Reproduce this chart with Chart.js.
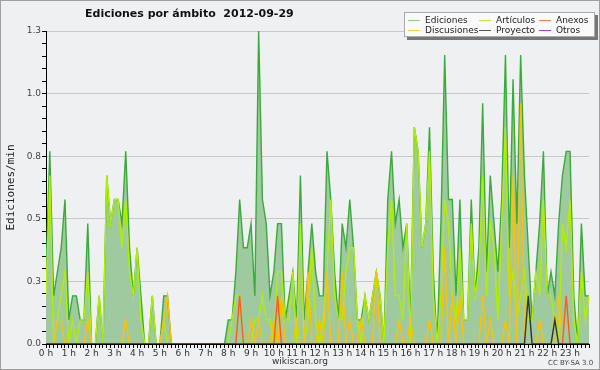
<!DOCTYPE html>
<html lang="es">
<head>
<meta charset="UTF-8">
<title>Ediciones por ámbito 2012-09-29</title>
<script src="https://cdn.jsdelivr.net/npm/chart.js"></script>
<style>
  html, body { margin: 0; padding: 0; background: #eff0f2; }
  #wrap { position: relative; width: 600px; height: 370px; font-family: "DejaVu Sans", sans-serif; overflow: hidden; }
  #chart { position: absolute; left: 0; top: 0; }
  #frame { position: absolute; left: 0; top: 0; width: 600px; height: 370px; box-sizing: border-box; border: 1px solid #a0a0a0; pointer-events: none; }
  #title { position: absolute; left: 85px; top: 7px; font-weight: bold; font-size: 11px; color: #111; white-space: pre; }
  #legend { position: absolute; left: 404px; top: 12px; width: 189px; height: 23px; background: #fafafa; border: 1px solid #aaa; box-shadow: 3px 3px 0 #777; font-size: 9px; color: #222; }
  .item { position: absolute; white-space: nowrap; line-height: 10px; }
  .item i { display: inline-block; width: 12px; height: 0; border-top: 1px solid; vertical-align: middle; margin-right: 5px; }
  #footer { position: absolute; left: 0; width: 600px; top: 356px; text-align: center; font-size: 9px; color: #333; }
  #cc { position: absolute; left: 548px; top: 359px; font-size: 7px; color: #444; }
</style>
</head>
<body>
<div id="wrap">
  <canvas id="chart" width="600" height="370"></canvas>
  <div id="title">Ediciones por ámbito  2012-09-29</div>
  <div id="legend"></div>
  <div id="footer">wikiscan.org</div>
  <div id="cc">CC BY-SA 3.0</div>
  <div id="frame"></div>
</div>
<script>
// una muestra cada 10 minutos (144 por día), ediciones por minuto
const ediciones = [
  0.3, 0.8, 0.2, 0.3, 0.4, 0.6, 0.1, 0.2, 0.2, 0.1, 0.1, 0.5,
  0, 0, 0.2, 0, 0.7, 0.5, 0.6, 0.6, 0.5, 0.8, 0.4, 0.2,
  0.4, 0.2, 0, 0, 0.2, 0, 0, 0.2, 0.2, 0, 0, 0,
  0, 0, 0, 0, 0, 0, 0, 0, 0, 0, 0, 0,
  0.1, 0.1, 0.3, 0.6, 0.4, 0.4, 0.5, 0.2, 1.3, 0.6, 0.5, 0.2,
  0.3, 0.5, 0.5, 0.1, 0.2, 0.3, 0.1, 0.7, 0.1, 0.3, 0.5, 0.3,
  0.2, 0.2, 0.8, 0.6, 0.3, 0.1, 0.5, 0.4, 0.6, 0.4, 0.1, 0.1,
  0.2, 0.1, 0.2, 0.3, 0.2, 0, 0.6, 0.8, 0.5, 0.6, 0.4, 0.5,
  0.1, 0.9, 0.8, 0.4, 0.5, 0.9, 0.3, 0, 0.5, 1.2, 0.6, 0.6,
  0.2, 0.6, 0.1, 0.1, 0.6, 0.2, 0.4, 1.0, 0.3, 0.7, 0.5, 0.3,
  0.6, 1.2, 0.4, 1.1, 0.5, 1.2, 0.7, 0.4, 0.1, 0.3, 0.5, 0.8,
  0.2, 0.3, 0.2, 0.5, 0.7, 0.8, 0.8, 0.2, 0, 0.5, 0.2, 0.2
];
const articulos = [
  0.2, 0.7, 0, 0.1, 0.2, 0.3, 0, 0.1, 0, 0.1, 0.1, 0.3,
  0, 0, 0.2, 0, 0.7, 0.5, 0.6, 0.6, 0.4, 0.6, 0.3, 0.2,
  0.4, 0.1, 0, 0, 0.2, 0, 0, 0.1, 0, 0, 0, 0,
  0, 0, 0, 0, 0, 0, 0, 0, 0, 0, 0, 0,
  0, 0.1, 0.2, 0.2, 0, 0, 0, 0.1, 0.1, 0.2, 0.1, 0.1,
  0, 0.3, 0.3, 0.1, 0.1, 0.3, 0, 0.5, 0, 0.1, 0.4, 0.1,
  0, 0.1, 0.3, 0.6, 0.2, 0.1, 0.1, 0.3, 0.4, 0.4, 0.1, 0,
  0.2, 0.1, 0.2, 0.3, 0.2, 0, 0.4, 0.6, 0.2, 0.2, 0.1, 0.5,
  0, 0.9, 0.8, 0.4, 0.5, 0.8, 0.2, 0, 0.2, 0.6, 0.5, 0.2,
  0.1, 0.4, 0.1, 0.1, 0.5, 0.2, 0.3, 0.7, 0.2, 0.5, 0.4, 0.1,
  0.5, 0.9, 0.2, 0.3, 0.1, 0.2, 0.3, 0.1, 0.1, 0.3, 0.2, 0.6,
  0.2, 0.2, 0.1, 0, 0.5, 0.4, 0.6, 0.1, 0, 0.3, 0.1, 0.2
];
const discusiones = [
  0, 0, 0, 0.1, 0.1, 0, 0, 0, 0, 0, 0, 0.1,
  0, 0, 0, 0, 0, 0, 0, 0, 0, 0.1, 0, 0,
  0, 0, 0, 0, 0, 0, 0, 0.1, 0.2, 0, 0, 0,
  0, 0, 0, 0, 0, 0, 0, 0, 0, 0, 0, 0,
  0, 0, 0, 0, 0, 0, 0.1, 0, 0.1, 0, 0, 0,
  0.1, 0, 0.2, 0, 0, 0, 0.1, 0, 0, 0.3, 0, 0,
  0.1, 0, 0.3, 0, 0, 0, 0.3, 0, 0.1, 0, 0, 0.1,
  0, 0, 0, 0.3, 0, 0, 0, 0, 0, 0.1, 0, 0,
  0.1, 0, 0, 0, 0, 0.1, 0, 0, 0, 0.4, 0, 0.2,
  0, 0.2, 0, 0, 0, 0, 0, 0.2, 0, 0.1, 0, 0,
  0, 0.1, 0, 0.7, 0, 1.0, 0, 0, 0, 0, 0.1, 0,
  0, 0, 0, 0.2, 0, 0, 0, 0, 0, 0, 0, 0
];
const anexos = [
  0, 0, 0, 0, 0, 0, 0, 0, 0, 0, 0, 0,
  0, 0, 0, 0, 0, 0, 0, 0, 0, 0, 0, 0,
  0, 0, 0, 0, 0, 0, 0, 0, 0, 0, 0, 0,
  0, 0, 0, 0, 0, 0, 0, 0, 0, 0, 0, 0,
  0, 0, 0, 0.2, 0, 0, 0, 0, 0, 0, 0, 0,
  0, 0.2, 0, 0, 0, 0, 0, 0, 0, 0, 0, 0,
  0, 0, 0, 0, 0, 0, 0, 0, 0, 0, 0, 0,
  0, 0, 0, 0, 0, 0, 0, 0, 0, 0, 0, 0,
  0, 0, 0, 0, 0, 0, 0, 0, 0, 0, 0, 0,
  0, 0, 0, 0, 0, 0, 0, 0, 0, 0, 0, 0,
  0, 0, 0, 0, 0, 0, 0, 0, 0, 0, 0, 0,
  0, 0, 0, 0, 0, 0.2, 0, 0, 0, 0, 0, 0
];
const proyecto = [
  0, 0, 0, 0, 0, 0, 0, 0, 0, 0, 0, 0,
  0, 0, 0, 0, 0, 0, 0, 0, 0, 0, 0, 0,
  0, 0, 0, 0, 0, 0, 0, 0, 0, 0, 0, 0,
  0, 0, 0, 0, 0, 0, 0, 0, 0, 0, 0, 0,
  0, 0, 0, 0, 0, 0, 0, 0, 0, 0, 0, 0,
  0, 0, 0, 0, 0, 0, 0, 0, 0, 0, 0, 0,
  0, 0, 0, 0, 0, 0, 0, 0, 0, 0, 0, 0,
  0, 0, 0, 0, 0, 0, 0, 0, 0, 0, 0, 0,
  0, 0, 0, 0, 0, 0, 0, 0, 0, 0, 0, 0,
  0, 0, 0, 0, 0, 0, 0, 0, 0, 0, 0, 0,
  0, 0, 0, 0, 0, 0, 0, 0.2, 0, 0, 0, 0,
  0, 0, 0.1, 0, 0, 0, 0, 0, 0, 0, 0, 0
];

// leyenda: orden por filas, como en la imagen
const legendNames = ['Ediciones', 'Artículos', 'Anexos', 'Discusiones', 'Proyecto', 'Otros'];
const legendColors = ['#8fcc8f', '#bbee33', '#ff7a45', '#ffcc33', '#555555', '#9944ee'];

const yMax = 1.3;
const yDivs = 25;            // 5 etiquetas, 4 marcas pequeñas entre cada una
const yStep = yMax / yDivs;
const isMajor = v => Math.round(v / yStep) % 5 === 0;

// leyenda en HTML
const legend = document.getElementById('legend');
const colX = [3, 74, 134];
legendNames.forEach((name, k) => {
  const el = document.createElement('div');
  el.className = 'item';
  el.style.left = colX[k % 3] + 'px';
  el.style.top = (k < 3 ? 2 : 12) + 'px';
  el.innerHTML = '<i style="border-color:' + legendColors[k] + '"></i>' + name;
  legend.appendChild(el);
});

Chart.defaults.font.family = '"DejaVu Sans", sans-serif';

const pts = arr => arr.map((v, i) => ({ x: i, y: v }));

const ctx = document.getElementById('chart').getContext('2d');
new Chart(ctx, {
  type: 'line',
  data: {
    datasets: [
      { label: 'Ediciones', data: pts(ediciones), borderColor: '#3aab3a', backgroundColor: '#9fca9f', fill: 'origin', borderWidth: 1.4, order: 5 },
      { label: 'Artículos', data: pts(articulos), borderColor: '#b2ee00', borderWidth: 1.4, fill: false, order: 4 },
      { label: 'Discusiones', data: pts(discusiones), borderColor: '#ffc000', borderWidth: 1.4, fill: false, order: 3 },
      { label: 'Anexos', data: pts(anexos), borderColor: '#ff5a1e', borderWidth: 1.4, fill: false, order: 2 },
      { label: 'Proyecto', data: pts(proyecto), borderColor: '#333333', borderWidth: 1.4, fill: false, order: 1 }
    ]
  },
  options: {
    responsive: false,
    animation: false,
    devicePixelRatio: 1,
    layout: { padding: { top: 31, right: 11, bottom: 0, left: 0 } },
    plugins: { legend: { display: false }, tooltip: { enabled: false } },
    elements: { point: { radius: 0 }, line: { tension: 0 } },
    scales: {
      x: {
        type: 'linear', min: 0, max: 143,
        afterFit: s => { s.height = 26; },
        grid: { drawOnChartArea: false, tickLength: 4, tickColor: '#000' },
        border: { color: '#000', width: 1 },
        ticks: {
          stepSize: 1, autoSkip: false, maxRotation: 0, minRotation: 0, padding: 0,
          color: '#333', font: { size: 9 },
          callback: v => (v % 6 === 0 ? (v / 6) + ' h' : '')
        }
      },
      y: {
        min: 0, max: yMax,
        afterFit: s => { s.width = 46; },
        afterBuildTicks: s => {
          const t = [];
          for (let k = 0; k <= yDivs; k++) t.push({ value: k * yStep });
          s.ticks = t;
        },
        grid: {
          color: c => (c.tick && isMajor(c.tick.value) ? '#c8c8c8' : 'rgba(0,0,0,0)'),
          tickColor: '#000', tickLength: 4
        },
        border: { color: '#000', width: 1 },
        ticks: {
          padding: 1, color: '#444', font: { size: 9 }, autoSkip: false,
          callback: v => (isMajor(v) ? v.toFixed(1) : '')
        },
        title: {
          display: true, text: 'Ediciones/min', color: '#222',
          font: { family: '"DejaVu Sans Mono", monospace', size: 11 },
          padding: { top: 5, bottom: 0 }
        }
      }
    }
  }
});
</script>
</body>
</html>
